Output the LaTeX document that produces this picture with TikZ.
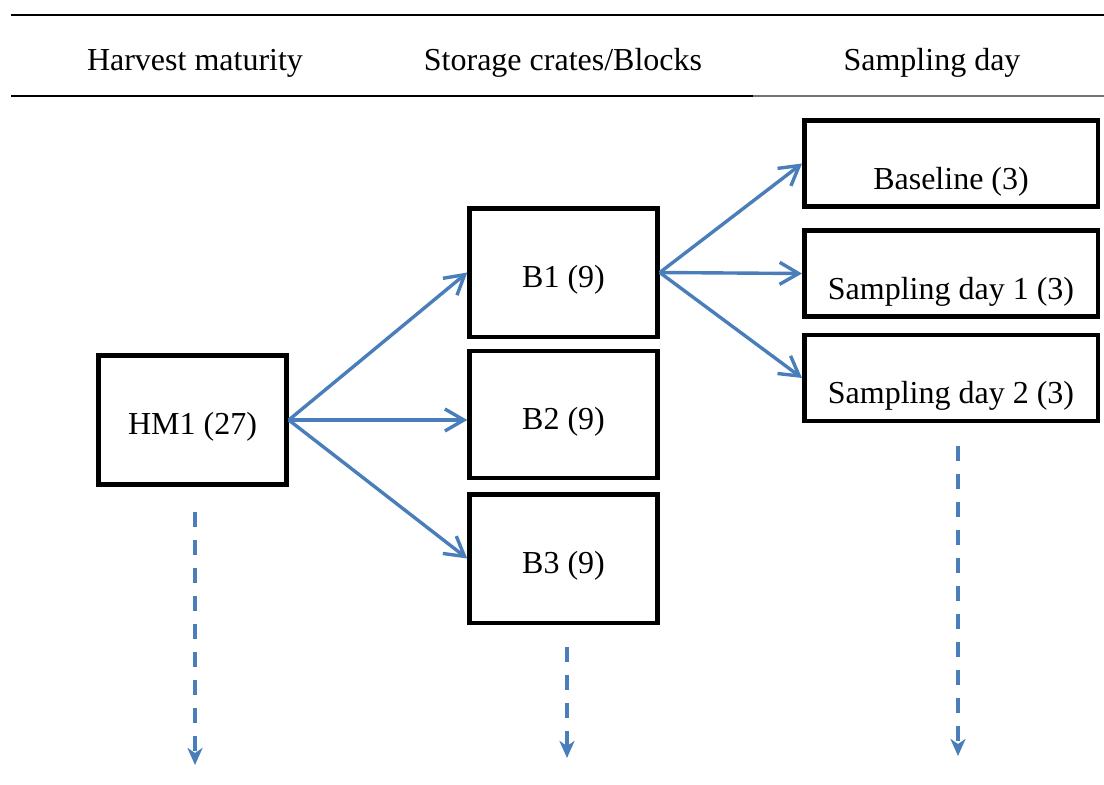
\documentclass[tikz,border=0pt]{standalone}
\usepackage{fontspec}
\setmainfont{Liberation Serif}
\usetikzlibrary{arrows.meta}
\definecolor{flowblue}{HTML}{4A7EBB}
\begin{document}
\begin{tikzpicture}[x=1pt,y=-1pt,
  every node/.style={font=\fontsize{32}{38}\selectfont},
  head/.style={anchor=base},
  box/.style={draw=black,line width=4.5pt,rectangle,inner sep=0pt,
    text height=44.5pt,text depth=15.5pt},
  tallbox/.style={box,minimum width=188pt,minimum height=128.5pt},
  widebox/.style={box,minimum width=293.5pt,minimum height=86pt,
    text height=55.5pt,text depth=4.5pt},
  flow/.style={draw=flowblue,line width=3.4pt,
    -{Straight Barb[length=19pt,width=22pt,line width=3.4pt]}},
  onward/.style={draw=flowblue,line width=3.6pt,dash pattern=on 15pt off 13pt,
    -{Stealth[length=17pt,width=15pt,inset=5pt]}}]
  \useasboundingbox (0,0) rectangle (1104,785);

  % table rules
  \draw[line width=2.2pt] (11,15) -- (1104,15);
  \draw[line width=2.2pt] (11,96) -- (753,96);
  \draw[line width=1.2pt,black!55] (753,96) -- (1104,96);

  % column headings
  \node[head] (hHM) at (195,70) {Harvest maturity};
  \node[head] (hSC) at (563,70) {Storage crates/Blocks};
  \node[head] (hSD) at (932,70) {Sampling day};

  % harvest maturity
  \node[tallbox,minimum height=129pt] (hm) at (192.5,420) {HM1 (27)};

  % storage blocks
  \node[tallbox] (b1) at (563.5,272.5) {B1 (9)};
  \node[tallbox,minimum height=127pt] (b2) at (563.5,414.5) {B2 (9)};
  \node[tallbox] (b3) at (563.5,558.5) {B3 (9)};

  % sampling days
  \node[widebox] (base) at (951,163.5) {Baseline (3)};
  \node[widebox] (sd1) at (951,273.5) {Sampling day 1 (3)};
  \node[widebox] (sd2) at (951,378) {Sampling day 2 (3)};

  % splits
  \draw[flow] (hm.east) -- (b1.west);
  \draw[flow] (hm.east) -- (hm.east -| b2.west);
  \draw[flow] (hm.east) -- (b3.west);
  \draw[flow] (b1.east) -- (base.west);
  \draw[flow] (b1.east) -- (sd1.west);
  \draw[flow] (b1.east) -- (sd2.west);

  % continuation arrows
  \coordinate (hmtail) at (195,512);
  \coordinate (hmtip) at (195,765);
  \coordinate (btail) at (567,647);
  \coordinate (btip) at (567,758);
  \coordinate (sdtail) at (958,446);
  \coordinate (sdtip) at (958,756);
  \draw[onward] (hmtail) -- (hmtip);
  \draw[onward] (btail) -- (btip);
  \draw[onward] (sdtail) -- (sdtip);
\end{tikzpicture}
\end{document}
